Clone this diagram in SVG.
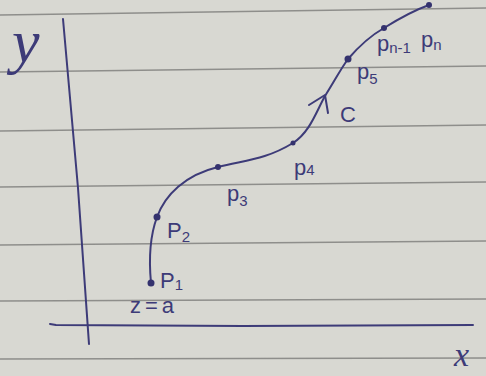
<svg xmlns="http://www.w3.org/2000/svg" width="486" height="376" viewBox="0 0 486 376">
<style>
.paper{fill:#d8d8d2}
.rule{stroke:#8e8e8b;stroke-width:1.6;fill:none}
.ink{stroke:#3d3b78;stroke-width:2;fill:none;stroke-linecap:round;stroke-linejoin:round}
.dot{fill:#34326e}
.lbl{font-family:"Liberation Sans",Arial,sans-serif;fill:#3d3b78;font-size:22px}
.sub{font-size:15px}
.axl{font-family:"Liberation Serif","Times New Roman",serif;font-style:italic;fill:#3d3b78}
</style>
<rect class="paper" x="0" y="0" width="486" height="376"/>
<g id="rules">
<line class="rule" x1="0" y1="15" x2="486" y2="8"/>
<line class="rule" x1="0" y1="72" x2="486" y2="66"/>
<line class="rule" x1="0" y1="131" x2="486" y2="125"/>
<line class="rule" x1="0" y1="187" x2="486" y2="182"/>
<line class="rule" x1="0" y1="245" x2="486" y2="241"/>
<line class="rule" x1="0" y1="301" x2="486" y2="299"/>
<line class="rule" x1="0" y1="359" x2="486" y2="358"/>
</g>
<g id="axes">
<path class="ink" d="M63,19 L78,188 L89,344"/>
<path class="ink" d="M50,324 L56,325 L243,326 L473,325"/>
<text class="axl" x="12" y="62" font-size="62">y</text>
<text class="axl" x="454" y="366" font-size="34">x</text>
</g>
<g id="connectors">
<path class="ink" d="M151,283 C149,262 150,236 157,217 C165,195 185,175 218,167 C245,160 265,160 293,143 C310,132 316,112 325,96 C334,82 340,70 348,59 C360,45 370,36 384,28 C400,18 415,10 429,5"/>
<polyline class="ink" points="309,105 325,95 328,113"/>
<text class="lbl" x="340" y="122" font-size="26">C</text>
</g>
<g id="P1">
<circle class="dot" cx="151" cy="283" r="3.5"/>
<text class="lbl" x="160" y="288">P<tspan class="sub" dy="2">1</tspan></text>
<text class="lbl" x="130" y="313" font-size="24" letter-spacing="4">z=a</text>
</g>
<g id="P2">
<circle class="dot" cx="157" cy="217" r="3.5"/>
<text class="lbl" x="167" y="238">P<tspan class="sub" dy="4">2</tspan></text>
</g>
<g id="P3">
<circle class="dot" cx="218" cy="167" r="3"/>
<text class="lbl" x="227" y="201">p<tspan class="sub" dy="5">3</tspan></text>
</g>
<g id="P4">
<circle class="dot" cx="293" cy="143" r="2.5"/>
<text class="lbl" x="294" y="175">p<tspan class="sub" dy="0">4</tspan></text>
</g>
<g id="P5">
<circle class="dot" cx="348" cy="59" r="3.5"/>
<text class="lbl" x="357" y="79">p<tspan class="sub" dy="5">5</tspan></text>
</g>
<g id="Pn-1">
<circle class="dot" cx="384" cy="28" r="3"/>
<text class="lbl" x="377" y="51" font-size="18">p<tspan class="sub" font-size="12" dy="2">n-1</tspan></text>
</g>
<g id="Pn">
<circle class="dot" cx="429" cy="5" r="3"/>
<text class="lbl" x="421" y="47">p<tspan class="sub" dy="3">n</tspan></text>
</g>
</svg>
